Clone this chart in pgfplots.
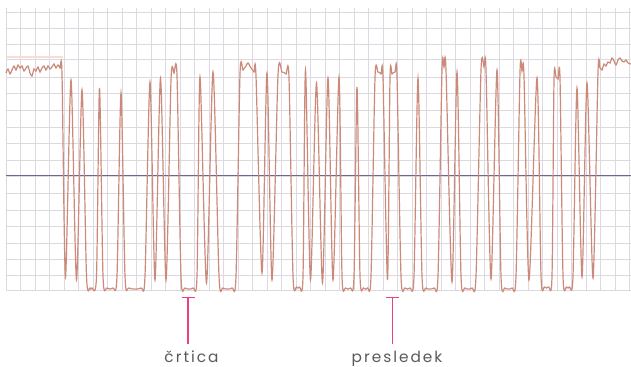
\documentclass[border=0pt]{standalone}
\usepackage{pgfplots}
\pgfplotsset{compat=1.18}
\usepackage{fontspec}
\setmainfont{Poppins}
\definecolor{gridc}{RGB}{220,217,224}
\definecolor{sigc}{RGB}{204,138,122}
\definecolor{midc}{RGB}{112,102,150}
\definecolor{pinkc}{RGB}{238,64,122}
\definecolor{txtc}{RGB}{90,90,90}
\definecolor{peach}{RGB}{247,222,212}
\begin{document}
\begin{tikzpicture}
\begin{axis}[
  scale only axis, width=468.75pt, height=212.25pt,
  xmin=6, xmax=631, ymin=8, ymax=291, y dir=reverse,
  axis line style={draw=none}, major tick length=0pt,
  xtick={6.2,20.7,...,631},
  ytick={12,28,44,59,77,93,110,127,143,160,176,193,210,226,243,259,275,290},
  xticklabels={}, yticklabels={},
  grid=major, grid style={gridc, line width=0.6pt},
  clip=false,
]
\addplot[peach, line width=0.8pt] coordinates {(6,57) (63,57)};
\addplot[midc, line width=0.7pt] coordinates {(6,175) (631,175)};
\addplot[sigc, line width=0.9pt, smooth, tension=0.45] coordinates {
(6,73) (8,69) (10,74) (12,70) (14,66) (16,70) (18,65) (20,68) (22,66) (24,71) (26,68) (28,66) (30,73) (32,76) (34,69) (36,71) (38,67) (40,72) (42,68) (44,66) (46,70) (48,66) (50,69) (52,67) (54,64) (56,68) (58,65) (60,68) (62,74)
(65.5,277) (71,80) (76.5,280) (82,90)
(86.5,276) (90,288) (92,288) (96.5,276)
(99.5,88)
(103,276) (107,288) (113,288) (117,276)
(121,93)
(125,276) (129,288) (141,288) (145,276)
(150,82) (155,280) (160.5,78) (166,280)
(171,80) (174,73) (177,76)
(181,276) (185,288) (193,288) (197,276)
(200,77) (206.5,283) (213,72)
(219,276) (223,288) (232,288) (236,276)
(240,74) (243,70) (246,66) (248,63) (251,68) (254,72) (256,76)
(262,273) (267,73) (272,280)
(278,75) (282,72) (286,74) (289,78)
(293,276) (296.5,287) (299.5,287) (303,276)
(305.5,70) (310.5,280) (316.5,83) (322.5,283) (328,78) (333,280) (339,77)
(342,276) (345.5,288) (350.5,288) (354,276)
(357,87)
(360,276) (363.5,288) (367.5,288) (371,276)
(375,78) (378,72) (381,74) (383,78)
(387.5,280)
(390,78) (392,74) (395,72) (397,76)
(401,276) (405,288) (410,288) (414,276)
(418,78)
(422,276) (426,288) (434,288) (438,276)
(442,70) (444,67) (446,70)
(452,282) (457,72)
(461,276) (465,288) (472,288) (476,276)
(481,70) (484,67) (486,70)
(491,279) (497,70)
(501,276) (505,288) (512,288) (516,276)
(520,72) (522,71) (524,76)
(529,280) (537,78)
(541,276) (544.5,287) (548.5,287) (552,276)
(554,80) (556,77) (558,79) (560,78)
(563,276) (566.5,287) (569.5,287) (573,276)
(577,88) (582,277) (587,83) (593,278)
(598,72) (600,68) (602,70) (604,64) (606,66) (608,62) (610,63) (612,58) (614,61) (616,65) (618,60) (620,58) (622,61) (624,62) (626,60) (628,63) (631,64)
};
\draw[pinkc, line width=1.1pt] (axis cs:188,344) -- (axis cs:188,297.5);
\draw[pinkc, line width=1.1pt] (axis cs:181.5,297.5) -- (axis cs:195,297.5);
\draw[pinkc, line width=1.1pt] (axis cs:392.7,344) -- (axis cs:392.7,297.5);
\draw[pinkc, line width=1.1pt] (axis cs:386,297.5) -- (axis cs:399.3,297.5);
\node[anchor=base, txtc, inner sep=0pt, font=\fontsize{11.5}{12}\selectfont\addfontfeatures{LetterSpace=13}] at (axis cs:191.5,362) {črtica};
\node[anchor=base, txtc, inner sep=0pt, font=\fontsize{11.5}{12}\selectfont\addfontfeatures{LetterSpace=13}] at (axis cs:397,362) {presledek};
\coordinate (TL) at (axis cs:0,0);
\coordinate (BR) at (axis cs:631,367);
\end{axis}
\pgfresetboundingbox
\useasboundingbox (TL) rectangle (BR);
\end{tikzpicture}
\end{document}
